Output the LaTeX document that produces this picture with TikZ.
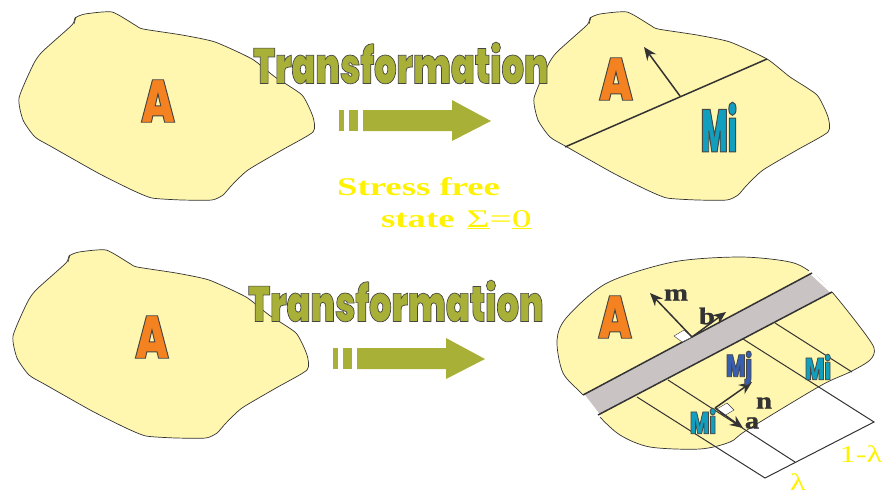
\documentclass[tikz,border=0pt]{standalone}
\usepackage{fontspec}
\usetikzlibrary{arrows.meta,patterns.meta}
\setmainfont{Liberation Serif}
\newfontfamily\transfont[FakeBold=1.4,FakeStretch=0.705]{Poppins Black}
\newfontfamily\afont[FakeBold=1.6,FakeStretch=0.72]{Poppins Black}
\newfontfamily\mifont[FakeBold=1.6,FakeStretch=0.47]{Poppins Black}
\newfontfamily\smfont[FakeBold=2.4,FakeStretch=0.66]{Poppins Black}
\newfontfamily\stressfont[FakeStretch=1.44]{Liberation Serif Bold}
\newfontfamily\stressreg[FakeStretch=1.55]{Liberation Serif}
\newfontfamily\lblfont[FakeStretch=1.2,FakeBold=1]{Liberation Serif Bold}
\newfontfamily\lamfont[FakeStretch=1.35]{Liberation Serif}
\newcommand{\outl}[2]{\special{pdf:bcolor [#1] [0.28 0.28 0.26]}#2\special{pdf:ecolor}}
\definecolor{blobc}{HTML}{FFF6B0}
\definecolor{olive}{HTML}{A9B038}
\definecolor{bandc}{HTML}{CFC8C8}
\definecolor{dk}{HTML}{333333}
\definecolor{yel}{HTML}{FFF200}
\tikzset{
 blob/.style={fill=blobc,draw=dk,line width=.7pt},
 bar/.style={fill=olive,draw=none},
 conn/.style={draw=dk,line width=1.5pt},
 thin conn/.style={draw=dk,line width=1pt},
 vec/.style={draw=dk,line width=1.5pt,-{Stealth[length=13pt,width=11pt]}},
 txt/.style={inner sep=0pt,anchor=center}
}
\newcommand{\blobshape}{%
 plot[smooth cycle,tension=.35] coordinates{(590,18)(600,14)(627,12)(650,25)(658,29)(697,35)(730,42)(767,59)(790,77)(817,95)(828,117)(828,132)(797,150)(763,170)(747,185)(738,195)(727,200)(697,200)(667,198)(647,190)(613,173)(567,147)(550,137)(538,120)(534,98)(548,65)(557,52)(587,25)}}
\newcommand{\bigarrow}{%
 \fill[bar] (339,110) rectangle (344,131);
 \fill[bar] (349,110) rectangle (358,131);
 \fill[bar] (363,110) -- (452,110) -- (452,100) -- (491,121) -- (452,141) -- (452,131) -- (363,131) -- cycle;}
\begin{document}
\begin{tikzpicture}[x=1pt,y=-1pt]
\useasboundingbox (0,0) rectangle (882,495);
% blobs
\begin{scope}[shift={(-515,0)}]
 \draw[blob] \blobshape;
 \draw[dk,line width=.6pt] (589,24)--(591,17);
\end{scope}
\draw[blob] \blobshape;
\draw[dk,line width=.6pt] (589,24)--(591,17);
\begin{scope}[shift={(-521,238)}]
 \draw[blob] \blobshape;
 \draw[dk,line width=.6pt] (589,24)--(591,17);
\end{scope}
\draw[blob] plot[smooth cycle,tension=.5] coordinates{(812,273)(790,262)(740,257)(673,262)(607,283)(567,317)(557,340)(563,373)(583,395)(598,415)(620,435)(650,447)(700,449)(730,442)(747,430)(820,386)(850,372)(870,360)(874,348)(860,327)(832,292)};
% A letters
\node[txt] (a1) at (158,101) {\afont\fontsize{60}{60}\selectfont\outl{0.96 0.51 0.13}{A}};
\node[txt] (a2) at (616,79) {\afont\fontsize{60}{60}\selectfont\outl{0.96 0.51 0.13}{A}};
\node[txt] (a3) at (152,337) {\afont\fontsize{60}{60}\selectfont\outl{0.96 0.51 0.13}{A}};
\node[txt] (a4) at (615,317) {\afont\fontsize{60}{60}\selectfont\outl{0.96 0.51 0.13}{A}};
\node[txt] (mi1) at (719,127) {\mifont\fontsize{60}{60}\selectfont\outl{0.07 0.62 0.75}{Mi}};
% top right
\coordinate (t1) at (565,147);
\coordinate (t2) at (767,59);
\coordinate (t3) at (680,96);
\coordinate (t4) at (644,47);
\draw[conn] (t1)--(t2);
\draw[vec] (t3)--(t4);
% arrows + titles
\bigarrow
\begin{scope}[shift={(-6,238)}]\bigarrow\end{scope}
\node[txt] (tr1) at (401,63) {\transfont\fontsize{50}{50}\selectfont\outl{0.66 0.69 0.22}{Transformation}};
\node[txt] (tr2) at (396,301) {\transfont\fontsize{50}{50}\selectfont\outl{0.66 0.69 0.22}{Transformation}};
% stress
\node[txt,anchor=base west,text=yel] (s1) at (337,195) {\stressfont\fontsize{25.5}{25}\selectfont Stress free};
\node[txt,anchor=base west,text=yel] (s2) at (381,227) {\stressfont\fontsize{25.5}{25}\selectfont state\hspace{12pt}\stressreg\underline{Σ}=\underline{0}};
% band
\coordinate (b1) at (583,395);
\coordinate (b2) at (812,273);
\coordinate (b3) at (832,292);
\coordinate (b4) at (598,415);
\fill[bandc] (b1)--(b2)--(b3)--(b4)--cycle;
\fill[pattern={Dots[distance=2pt,radius=.45pt]},pattern color=black!45] (b1)--(b2)--(b3)--(b4)--cycle;
\draw[white,line width=3pt] (809,271)--(b3) (b1)--(600,417);
\draw[conn] (b1)--(b2);
\draw[conn] (b4)--(b3);
% stripes
\coordinate (c1) at (637,397);
\coordinate (c2) at (765,478);
\coordinate (d1) at (668,380);
\coordinate (d2) at (795,462);
\coordinate (e1) at (743,339);
\coordinate (e2) at (874,422);
\coordinate (f1) at (775,323);
\coordinate (f2) at (852,372);
\draw[thin conn] (c1)--(c2)--(e2)--(e1);
\draw[thin conn] (d1)--(d2);
\draw[thin conn] (f1)--(f2);
% corner marks
\fill[white] (674,336)--(684,330)--(692,337)--(682,342)--cycle;
\draw[dk,line width=.4pt] (674,336)--(684,330)--(692,337)--(682,342)--cycle;
\fill[white] (717,409)--(727,403)--(734,410)--(724,416)--cycle;
\draw[dk,line width=.4pt] (717,409)--(727,403)--(734,410)--(724,416)--cycle;
% vectors
\coordinate (o1) at (692,337);
\coordinate (m) at (650,293);
\coordinate (b) at (726,312);
\coordinate (o2) at (715,408);
\coordinate (mj) at (752,382);
\coordinate (av) at (743,428);
\draw[vec] (o1)--(m);
\draw[vec] (o1)--(b);
\draw[vec] (o2)--(mj);
\draw[vec] (o2)--(av);
% labels
\node[txt] (lm) at (676,295) {\lblfont\fontsize{24}{24}\selectfont\color{dk}m};
\node[txt] (lb) at (707,316) {\lblfont\fontsize{24}{24}\selectfont\color{dk}b};
\node[txt] (ln) at (764,403) {\lblfont\fontsize{24}{24}\selectfont\color{dk}n};
\node[txt] (la) at (752,423) {\lblfont\fontsize{24}{24}\selectfont\color{dk}a};
\node[txt] (mj1) at (739,368) {\smfont\fontsize{31}{31}\selectfont\outl{0.22 0.37 0.69}{Mj}};
\node[txt] (mi2) at (703,421) {\smfont\fontsize{31}{31}\selectfont\outl{0.07 0.62 0.75}{Mi}};
\node[txt] (mi3) at (818,367) {\smfont\fontsize{31}{31}\selectfont\outl{0.07 0.62 0.75}{Mi}};
\node[txt,text=yel] (lam) at (798,482) {\lamfont\fontsize{24}{24}\selectfont λ};
\node[txt,text=yel] (ol) at (861,454) {\lamfont\fontsize{24}{24}\selectfont 1-λ};
\end{tikzpicture}
\end{document}
